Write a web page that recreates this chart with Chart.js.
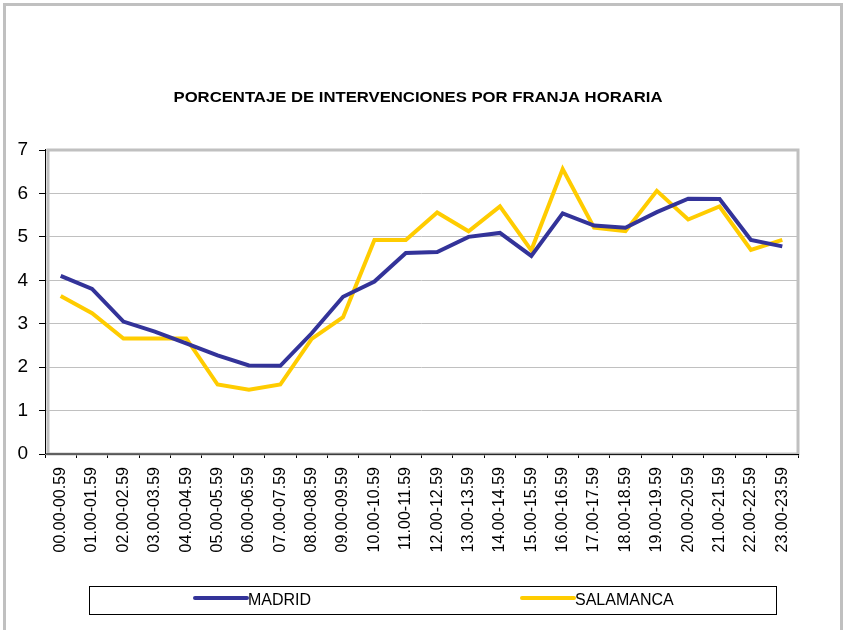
<!DOCTYPE html>
<html>
<head>
<meta charset="utf-8">
<script src="https://cdn.jsdelivr.net/npm/chart.js@4/dist/chart.umd.min.js"></script>
<style>
  html, body { margin: 0; padding: 0; background: #fff; }
  #wrap { position: relative; width: 843px; height: 630px; }
</style>
</head>
<body>
<div id="wrap"><canvas id="chart" width="843" height="630"></canvas></div>
<script>
const franjas = ['00.00-00.59', '01.00-01.59', '02.00-02.59', '03.00-03.59', '04.00-04.59', '05.00-05.59',
  '06.00-06.59', '07.00-07.59', '08.00-08.59', '09.00-09.59', '10.00-10.59', '11.00-11.59',
  '12.00-12.59', '13.00-13.59', '14.00-14.59', '15.00-15.59', '16.00-16.59', '17.00-17.59',
  '18.00-18.59', '19.00-19.59', '20.00-20.59', '21.00-21.59', '22.00-22.59', '23.00-23.59'];
const madrid = [4.10, 3.80, 3.05, 2.82, 2.55, 2.27, 2.04, 2.03, 2.78, 3.62, 3.97, 4.63,
  4.65, 5.00, 5.09, 4.56, 5.54, 5.26, 5.21, 5.57, 5.88, 5.87, 4.93, 4.78];
const salamanca = [3.64, 3.24, 2.66, 2.66, 2.66, 1.60, 1.48, 1.60, 2.65, 3.15, 4.93, 4.93,
  5.56, 5.13, 5.70, 4.69, 6.56, 5.21, 5.13, 6.06, 5.40, 5.70, 4.70, 4.93];
const yTicks = [0, 1, 2, 3, 4, 5, 6, 7];

const chartTitle = 'PORCENTAJE DE INTERVENCIONES POR FRANJA HORARIA';
const colors = { madrid: '#333399', salamanca: '#FFCC00', frame: '#c0c0c0', grid: '#c0c0c0' };

// frame, plot border, title and legend box drawn by hand
const decorations = {
  id: 'decorations',
  beforeDraw(chart) {
    const ctx = chart.ctx;
    ctx.save();
    ctx.fillStyle = '#fff';
    ctx.fillRect(0, 0, chart.width, chart.height);
    ctx.strokeStyle = colors.frame;
    ctx.lineWidth = 3;
    ctx.strokeRect(4.5, 4.5, 837, 700);
    ctx.restore();
  },
  beforeDatasetsDraw(chart) {
    const { ctx, chartArea: a } = chart;
    ctx.save();
    ctx.strokeStyle = colors.frame;
    ctx.lineWidth = 3;
    ctx.strokeRect(a.left + 3, a.top, a.right - a.left - 3, a.bottom - a.top);
    ctx.strokeStyle = '#000';
    ctx.lineWidth = 1;
    ctx.beginPath();
    ctx.moveTo(a.left + 0.5, a.top - 1);
    ctx.lineTo(a.left + 0.5, a.bottom);
    ctx.lineTo(a.right + 1, a.bottom + 0.5);
    ctx.stroke();
    ctx.restore();
  },
  afterDraw(chart) {
    const ctx = chart.ctx;
    ctx.save();
    ctx.fillStyle = '#000';
    // title is wide and short in the original, so stretch it a bit
    ctx.font = 'bold 14px "Liberation Sans", Arial, sans-serif';
    ctx.textAlign = 'center';
    ctx.textBaseline = 'alphabetic';
    const tw = ctx.measureText(chartTitle).width;
    const sx = 489 / tw;
    ctx.save();
    ctx.translate(418, 102);
    ctx.scale(sx, 1);
    ctx.fillText(chartTitle, 0, 0);
    ctx.restore();

    // legend
    ctx.strokeStyle = '#000';
    ctx.lineWidth = 1;
    ctx.strokeRect(89.5, 586.5, 687, 28);
    ctx.font = '16px "Liberation Sans", Arial, sans-serif';
    ctx.textAlign = 'left';
    ctx.textBaseline = 'middle';
    const items = [{ x: 195, w: 52 }, { x: 522, w: 52 }];
    chart.data.datasets.forEach((ds, i) => {
      const it = items[i];
      ctx.strokeStyle = ds.borderColor;
      ctx.lineWidth = 4;
      ctx.lineCap = 'round';
      ctx.beginPath();
      ctx.moveTo(it.x, 598);
      ctx.lineTo(it.x + it.w, 598);
      ctx.stroke();
      ctx.fillText(ds.label, it.x + it.w + 1, 601);
    });
    ctx.restore();
  }
};

new Chart(document.getElementById('chart').getContext('2d'), {
  type: 'line',
  data: {
    labels: franjas,
    datasets: [
      { label: 'MADRID', data: madrid, borderColor: colors.madrid, borderWidth: 4, pointRadius: 0, tension: 0, fill: false },
      { label: 'SALAMANCA', data: salamanca, borderColor: colors.salamanca, borderWidth: 4, pointRadius: 0, tension: 0, fill: false }
    ]
  },
  options: {
    responsive: false,
    animation: false,
    layout: { padding: { left: 0, top: 150, right: 45, bottom: 0 } },
    plugins: {
      legend: { display: false },
      title: { display: false },
      tooltip: { enabled: false }
    },
    scales: {
      x: {
        offset: true,
        afterFit(scale) { scale.height = 176; },
        grid: { offset: true, drawOnChartArea: false, drawTicks: true, tickLength: 4, tickColor: '#000' },
        border: { display: false },
        ticks: {
          autoSkip: false,
          maxRotation: 90,
          minRotation: 90,
          padding: 9,
          color: '#000',
          font: { family: '"Liberation Sans", Arial, sans-serif', size: 16 }
        }
      },
      y: {
        min: 0,
        max: 7,
        afterFit(scale) { scale.width = 45; },
        afterBuildTicks(scale) { scale.ticks = yTicks.map(v => ({ value: v })); },
        grid: { color: colors.grid, lineWidth: 1, tickColor: '#000', tickLength: 6 },
        border: { display: false },
        ticks: {
          padding: 11,
          color: '#000',
          font: { family: '"Liberation Sans", Arial, sans-serif', size: 19 }
        }
      }
    }
  },
  plugins: [decorations]
});
</script>
</body>
</html>
